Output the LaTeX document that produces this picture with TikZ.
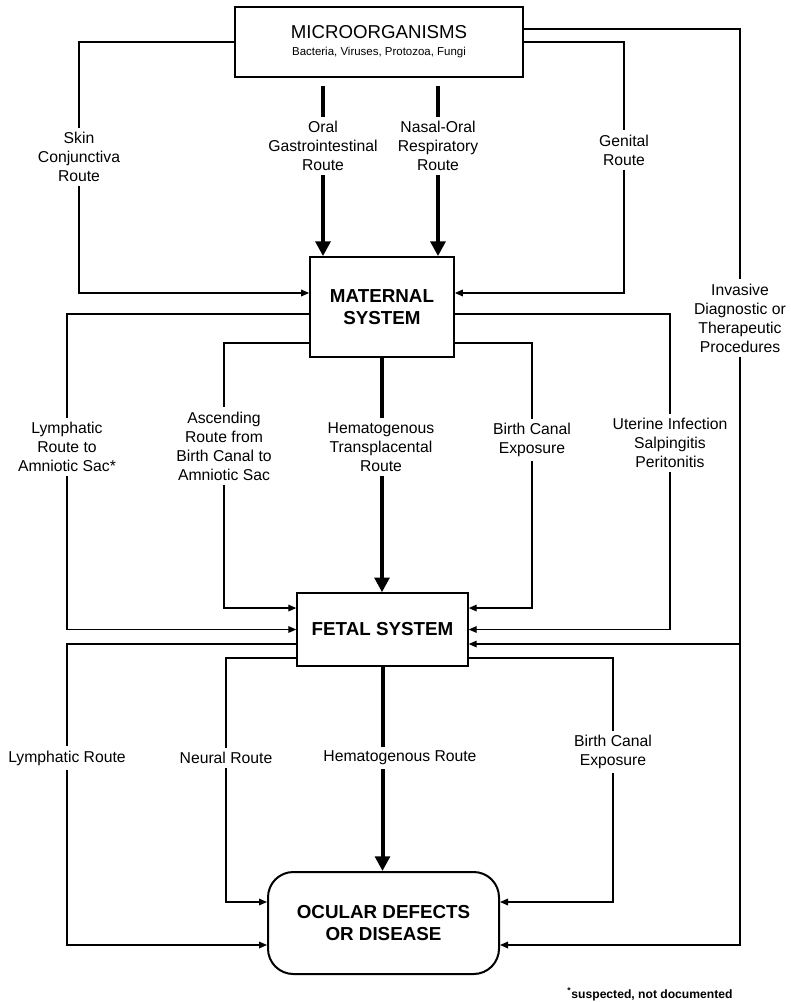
\documentclass[tikz,border=0pt]{standalone}
\usepackage{fontspec}
\setmainfont{Liberation Sans}
\usetikzlibrary{arrows.meta}
\tikzstyle{source}     = [rectangle, minimum width=216pt, minimum height=52.5pt, text centered, align=center, draw=black, line width=2.2pt]
\tikzstyle{system}     = [rectangle, text centered, align=center, draw=black, line width=1.3pt, font=\fontsize{14.1}{16.8}\selectfont\bfseries]
\tikzstyle{outcome}    = [rectangle, rounded corners=19pt, minimum width=173.25pt, minimum height=76.5pt, text centered, align=center, draw=black, line width=1.5pt, font=\fontsize{14.1}{17.2}\selectfont\bfseries]
\tikzstyle{route}      = [align=center, inner sep=3pt, font=\fontsize{11.8}{14.3}\selectfont]
\tikzstyle{wire}       = [line width=0.9pt]
\tikzstyle{arrow}      = [line width=0.9pt, -{Triangle[length=6pt,width=5pt]}]
\tikzstyle{heavy}      = [line width=3pt]
\tikzstyle{heavyarrow} = [line width=3pt, -{Triangle[length=11pt,width=11pt]}]

\begin{document}
\begin{tikzpicture}[x=0.75pt, y=-0.75pt]

    \useasboundingbox (0,0) rectangle (791,1002);

    \node (micro)    [source] at (379,42)
        {{\fontsize{14}{16.5}\selectfont MICROORGANISMS}\\[1pt]
         {\fontsize{8.6}{10}\selectfont Bacteria, Viruses, Protozoa, Fungi}};
    \node (maternal) [system, minimum width=108pt, minimum height=75pt] at (382,307) {MATERNAL\\SYSTEM};
    \node (fetal)    [system, minimum width=128.25pt, minimum height=54.75pt, line width=1.1pt] at (382.5,629.5) {FETAL SYSTEM};
    \node (ocular)   [outcome] at (383.5,923) {OCULAR DEFECTS\\OR DISEASE};

    \node (skin)     [route] at (79,157)   {Skin\\Conjunctiva\\Route};
    \node (oral)     [route] at (323,146)  {Oral\\Gastrointestinal\\Route};
    \node (nasal)    [route] at (438,146)  {Nasal-Oral\\Respiratory\\Route};
    \node (genital)  [route] at (624,150)  {Genital\\Route};
    \node (invasive) [route] at (740,318)  {Invasive\\Diagnostic or\\Therapeutic\\Procedures};
    \node (lymphA)   [route] at (67,447)   {Lymphatic\\Route to\\Amniotic Sac*};
    \node (ascend)   [route] at (224,446)  {Ascending\\Route from\\Birth Canal to\\Amniotic Sac};
    \node (hemaT)    [route] at (381,447)  {Hematogenous\\Transplacental\\Route};
    \node (birthA)   [route] at (532,440)  {Birth Canal\\Exposure};
    \node (uterine)  [route] at (670,443)  {Uterine Infection\\Salpingitis\\Peritonitis};
    \node (lymphR)   [route] at (67,758)   {Lymphatic Route};
    \node (neural)   [route] at (226,758)  {Neural Route};
    \node (hemaR)    [route] at (400,758)  {Hematogenous Route};
    \node (birthR)   [route] at (613,752)  {Birth Canal\\Exposure};

    % microorganisms -> maternal system
    \draw [wire] (micro.west) -| (skin);
    \draw [arrow] (skin) |- ([yshift=10.5pt]maternal.west);
    \draw [heavy, shorten <=6pt] (micro.south -| oral) -- (oral);
    \draw [heavyarrow] (oral) -- (oral |- maternal.north);
    \draw [heavy, shorten <=6pt] (micro.south -| nasal) -- (nasal);
    \draw [heavyarrow] (nasal) -- (nasal |- maternal.north);
    \draw [wire] (micro.east) -| (genital);
    \draw [arrow] (genital) |- ([yshift=10.5pt]maternal.east);
    \draw [wire] ([yshift=9.75pt]micro.east) -| (invasive);
    \draw [arrow] (invasive) |- ([yshift=-16.5pt]ocular.east);
    \draw [arrow] (invasive) |- ([yshift=-10.9pt]fetal.east);

    % maternal system -> fetal system
    \draw [wire] ([yshift=-5.25pt]maternal.west) -| (lymphA);
    \draw [arrow] (lymphA) |- (fetal.west);
    \draw [wire] ([yshift=-27pt]maternal.west) -| (ascend);
    \draw [arrow] (ascend) |- ([yshift=16.1pt]fetal.west);
    \draw [heavy] (maternal) -- (maternal |- hemaT.north);
    \draw [heavyarrow] (maternal |- hemaT.south) -- (maternal |- fetal.north);
    \draw [wire] ([yshift=-27pt]maternal.east) -| (birthA);
    \draw [arrow] (birthA) |- ([yshift=16.1pt]fetal.east);
    \draw [wire] ([yshift=-5.25pt]maternal.east) -| (uterine);
    \draw [arrow] (uterine) |- (fetal.east);

    % fetal system -> ocular defects
    \draw [wire] ([yshift=-10.9pt]fetal.west) -| (lymphR);
    \draw [arrow] (lymphR) |- ([yshift=-16.5pt]ocular.west);
    \draw [wire] ([yshift=-21.4pt]fetal.west) -| (neural);
    \draw [arrow] (neural) |- ([yshift=15.75pt]ocular.west);
    \draw [heavy] (fetal) -- (fetal |- hemaR.north);
    \draw [heavyarrow] (fetal |- hemaR.south) -- (fetal |- ocular.north);
    \draw [wire] ([yshift=-21.4pt]fetal.east) -| (birthR);
    \draw [arrow] (birthR) |- ([yshift=15.75pt]ocular.east);

    % footnote
    \node (note) [font=\fontsize{9.1}{11}\selectfont\bfseries] at (650,994)
        {\textsuperscript{*}suspected, not documented};

\end{tikzpicture}
\end{document}
